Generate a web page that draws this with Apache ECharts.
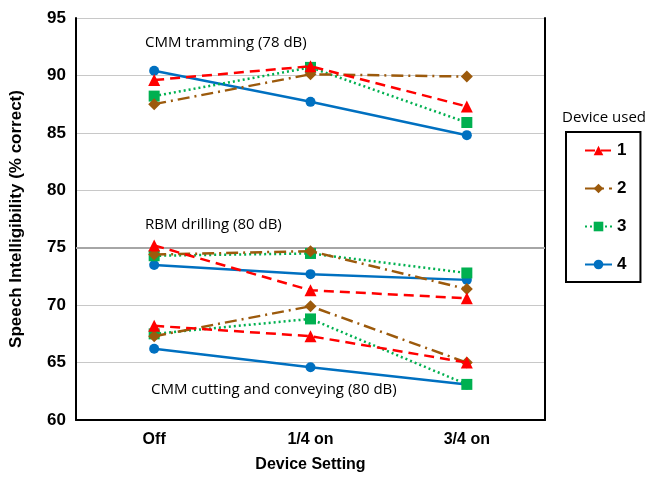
<!DOCTYPE html>
<html><head><meta charset="utf-8">
<script src="https://cdn.jsdelivr.net/npm/echarts@6/dist/echarts.min.js"></script>
<style>html,body{margin:0;padding:0;background:#fff}#c{width:659px;height:478px}</style>
</head><body><div id="c"></div>
<script>
const categories = ['Off', '1/4 on', '3/4 on'];
const deviceNames = ['1', '2', '3', '4'];
// CMM tramming (78 dB)
const tramming1 = [89.6, 90.8, 87.3];
const tramming2 = [87.5, 90.1, 89.9];
const tramming3 = [88.2, 90.7, 85.9];
const tramming4 = [90.4, 87.7, 84.8];
// RBM drilling (80 dB)
const drilling1 = [75.2, 71.3, 70.6];
const drilling2 = [74.4, 74.7, 71.4];
const drilling3 = [74.3, 74.5, 72.8];
const drilling4 = [73.5, 72.7, 72.2];
// CMM cutting and conveying (80 dB)
const cutting1 = [68.2, 67.3, 65.0];
const cutting2 = [67.3, 69.9, 65.0];
const cutting3 = [67.5, 68.8, 63.1];
const cutting4 = [66.2, 64.6, 63.1];
const yTicks = [60, 65, 70, 75, 80, 85, 90, 95];
const groupLabels = ['CMM tramming (78 dB)', 'RBM drilling (80 dB)', 'CMM cutting and conveying (80 dB)'];

const styles = [
  {color: '#FF0000', symbol: 'triangle', size: 12, type: [10, 6], width: 2.5},
  {color: '#9C5A0C', symbol: 'diamond', size: 12, type: [12, 5, 2, 5], width: 2.5},
  {color: '#00B050', symbol: 'rect', size: 11, type: [2, 3], width: 2.5},
  {color: '#0070C0', symbol: 'circle', size: 10, type: 'solid', width: 2.5}
];
const groups = [
  [tramming1, tramming2, tramming3, tramming4],
  [drilling1, drilling2, drilling3, drilling4],
  [cutting1, cutting2, cutting3, cutting4]
];
const series = [];
groups.forEach((g, gi) => {
  g.forEach((d, i) => {
    const s = styles[i];
    series.push({
      name: deviceNames[i], type: 'line', data: d,
      symbol: s.symbol, symbolSize: s.size,
      itemStyle: {color: s.color},
      lineStyle: {color: s.color, width: s.width, type: s.type},
      z: 10 - i
    });
  });
});
series[0].markLine = {
  silent: true, symbol: 'none', label: {show: false},
  lineStyle: {color: '#A6A6A6', width: 2, type: 'solid'},
  data: [{yAxis: 75}], z: 1
};

const chart = echarts.init(document.getElementById('c'));
chart.setOption({
  animation: false,
  backgroundColor: '#fff',
  grid: {left: 74, right: 114, top: 18, bottom: 56},
  xAxis: {
    type: 'category', data: categories, boundaryGap: true,
    name: 'Device Setting', nameLocation: 'middle', nameGap: 37,
    nameTextStyle: {fontFamily: 'Liberation Sans', fontWeight: 'bold', fontSize: 16, color: '#000'},
    axisLine: {lineStyle: {color: '#000', width: 2}},
    axisTick: {show: false},
    axisLabel: {fontFamily: 'Liberation Sans', fontWeight: 'bold', fontSize: 16, color: '#000', margin: 12}
  },
  yAxis: [{
    type: 'value', min: yTicks[0], max: yTicks[yTicks.length - 1], interval: 5,
    name: 'Speech Intelligibility (% correct)', nameLocation: 'middle', nameGap: 51,
    nameTextStyle: {fontFamily: 'Liberation Sans', fontWeight: 'bold', fontSize: 17, color: '#000'},
    axisLine: {show: true, lineStyle: {color: '#000', width: 2}},
    axisTick: {show: false},
    axisLabel: {fontFamily: 'Liberation Sans', fontWeight: 'bold', fontSize: 17, color: '#000', margin: 10},
    splitLine: {lineStyle: {color: '#C8C8C8', width: 1}}
  }, {
    type: 'value', min: yTicks[0], max: yTicks[yTicks.length - 1], interval: 5, position: 'right',
    axisLine: {show: true, lineStyle: {color: '#000', width: 2}},
    axisTick: {show: false}, axisLabel: {show: false}, splitLine: {show: false}
  }],
  legend: {
    data: deviceNames, orient: 'vertical', left: 566, top: 132,
    borderColor: '#000', borderWidth: 2, padding: [10, 14, 9, 18],
    itemWidth: 27, itemHeight: 12, itemGap: 21,
    textStyle: {fontFamily: 'Liberation Sans', fontWeight: 'bold', fontSize: 17, color: '#000'}
  },
  series: series,
  graphic: [
    {type: 'text', left: 562, top: 110, style: {text: 'Device used', font: '15px "Open Sans"', fill: '#000'}},
    {type: 'text', left: 145, top: 35, style: {text: groupLabels[0], font: '15px "Open Sans"', fill: '#000'}},
    {type: 'text', left: 145, top: 217, style: {text: groupLabels[1], font: '15px "Open Sans"', fill: '#000'}},
    {type: 'text', left: 151, top: 382, style: {text: groupLabels[2], font: '15px "Open Sans"', fill: '#000'}}
  ]
});
</script></body></html>
